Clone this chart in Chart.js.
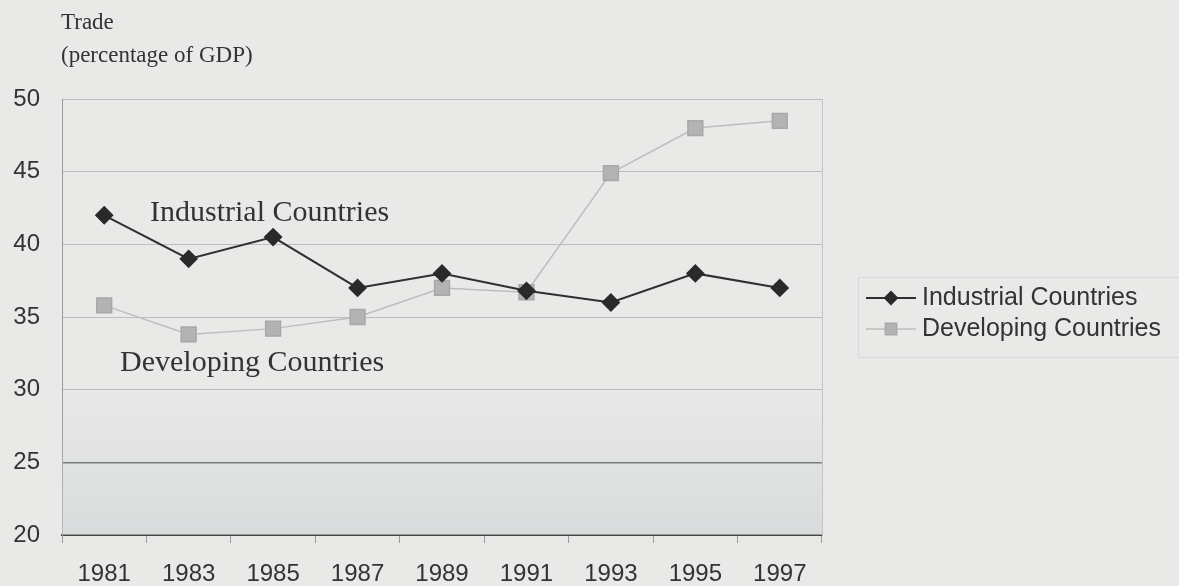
<!DOCTYPE html>
<html lang="en">
  <head>
    <meta charset="UTF-8" />
    <title>Trade as percentage of GDP</title>
    <style>
      html, body { margin: 0; padding: 0; background: #e9e9e8; }
      #wrap { width: 1179px; height: 586px; }
    </style>
  </head>
  <body>
    <div id="wrap"><canvas id="tradeChart" width="1179" height="586"></canvas></div>

    <script src="https://cdn.jsdelivr.net/npm/chart.js"></script>
    <script>
      const years = ["1981", "1983", "1985", "1987", "1989", "1991", "1993", "1995", "1997"];
      const industrial = [42, 39, 40.5, 37, 38, 36.8, 36, 38, 37];
      const developing = [35.8, 33.8, 34.2, 35, 37, 36.7, 44.9, 48, 48.5];
      const yTicks = [20, 25, 30, 35, 40, 45, 50];

      // titles, in-chart labels and legend
      const extras = {
        id: "extras",
        beforeDatasetsDraw(chart) {
          const { ctx, chartArea: a, scales } = chart;
          // faint shading in the lower band
          const y30 = scales.y.getPixelForValue(30);
          const g = ctx.createLinearGradient(0, y30, 0, a.bottom);
          g.addColorStop(0, "rgba(205,210,212,0)");
          g.addColorStop(1, "rgba(205,210,212,0.6)");
          ctx.save();
          ctx.fillStyle = g;
          ctx.fillRect(a.left, y30, a.right - a.left, a.bottom - y30);
          ctx.restore();
        },
        afterDraw(chart) {
          const { ctx } = chart;
          ctx.save();
          ctx.fillStyle = "#333";
          ctx.textBaseline = "middle";
          ctx.font = "23px 'Liberation Serif', serif";
          ctx.fillText("Trade", 61, 23);
          ctx.fillText("(percentage of GDP)", 61, 56);

          ctx.font = "30px 'Liberation Serif', serif";
          ctx.fillText("Industrial Countries", 150, 213);
          ctx.fillText("Developing Countries", 120, 363);

          // legend box
          ctx.strokeStyle = "#d8d8d8";
          ctx.lineWidth = 1;
          ctx.strokeRect(858.5, 277.5, 330, 80);

          ctx.font = "25px 'Liberation Sans', Arial, sans-serif";
          const items = [
            { ds: chart.data.datasets[0], y: 298, r: 6 },
            { ds: chart.data.datasets[1], y: 329, r: 8 },
          ];
          items.forEach(({ ds, y, r }) => {
            ctx.strokeStyle = ds.borderColor;
            ctx.lineWidth = ds.borderWidth;
            ctx.beginPath();
            ctx.moveTo(866, y);
            ctx.lineTo(916, y);
            ctx.stroke();
            ctx.fillStyle = ds.pointBackgroundColor;
            ctx.strokeStyle = ds.pointBorderColor;
            Chart.helpers.drawPoint(ctx, {
              pointStyle: ds.pointStyle,
              radius: r,
              rotation: 0,
              borderWidth: 1,
            }, 891, y);
            ctx.fillStyle = "#333";
            ctx.fillText(ds.label, 922, y);
          });
          ctx.restore();
        },
      };

      new Chart(document.getElementById("tradeChart"), {
        type: "line",
        data: {
          labels: years,
          datasets: [
            {
              label: "Industrial Countries",
              data: industrial,
              borderColor: "#2f2f2f",
              borderWidth: 2,
              pointStyle: "rectRot",
              pointRadius: 8,
              pointBackgroundColor: "#2a2a2a",
              pointBorderColor: "#2a2a2a",
              tension: 0,
            },
            {
              label: "Developing Countries",
              data: developing,
              borderColor: "#bdbdbd",
              borderWidth: 1.5,
              pointStyle: "rect",
              pointRadius: 10.5,
              pointBackgroundColor: "#b3b3b3",
              pointBorderColor: "#a8a8a8",
              tension: 0,
            },
          ],
        },
        options: {
          responsive: false,
          animation: false,
          layout: { padding: { top: 99, right: 357, left: 0, bottom: 0 } },
          plugins: {
            legend: { display: false },
            tooltip: { enabled: false },
          },
          scales: {
            x: {
              offset: true,
              afterFit: (s) => { s.height = 51; },
              grid: {
                offset: true,
                drawOnChartArea: false,
                drawTicks: true,
                tickLength: 8,
                color: "#999",
              },
              border: { color: "#444", width: 2 },
              ticks: {
                color: "#333",
                padding: 17,
                font: { family: "'Liberation Sans', Arial, sans-serif", size: 24 },
              },
            },
            y: {
              min: 20,
              max: 50,
              afterFit: (s) => { s.width = 62; },
              afterBuildTicks: (s) => { s.ticks = yTicks.map((v) => ({ value: v })); },
              grid: {
                drawTicks: false,
                color: (c) => (c.tick && c.tick.value === 25 ? "#555" : "#bdbdbd"),
                lineWidth: (c) => (c.tick && c.tick.value === 25 ? 1.5 : 1),
              },
              border: { color: "#999", width: 1 },
              ticks: {
                color: "#333",
                padding: 22,
                font: { family: "'Liberation Sans', Arial, sans-serif", size: 24 },
              },
            },
            y2: {
              position: "right",
              min: 20,
              max: 50,
              grid: { display: false },
              ticks: { display: false },
              border: { color: "#c4c4c4", width: 1, dash: [2, 2] },
              afterFit: (s) => { s.width = 0; },
            },
          },
        },
        plugins: [extras],
      });
    </script>
  </body>
</html>
